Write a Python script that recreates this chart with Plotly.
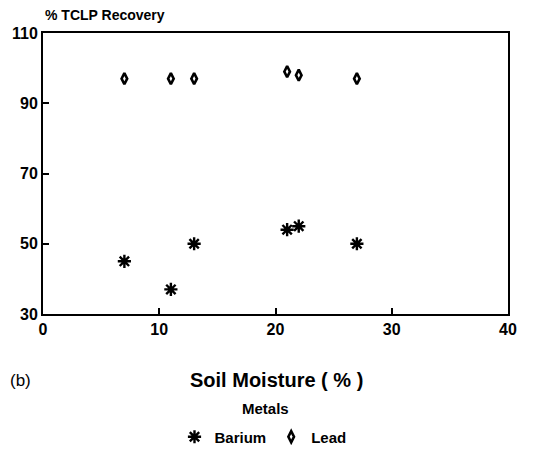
import plotly.graph_objects as go

moisture = [7, 11, 13, 21, 22, 27]
barium = [45, 37, 50, 54, 55, 50]
lead = [97, 97, 97, 99, 98, 97]
x_ticks = [0, 10, 20, 30, 40]
y_ticks = [30, 50, 70, 90, 110]

FONT = "Liberation Sans"
W, H = 533, 445          # page has an 8px body margin
L, R, T, B = 35, 33, 25, 139
PH = H - T - B

fig = go.Figure()
fig.add_trace(go.Scatter(
    x=moisture, y=barium, mode="markers", name="Barium",
    marker=dict(symbol="asterisk-open", size=11, color="black",
                line=dict(color="black", width=2.4)),
))
fig.add_trace(go.Scatter(
    x=moisture, y=lead, mode="markers", name="Lead",
    marker=dict(symbol="diamond-tall-open", size=8, color="black",
                line=dict(color="black", width=2.6)),
))

fig.update_layout(
    width=W, height=H,
    margin=dict(l=L, r=R, t=T, b=B, autoexpand=False),
    paper_bgcolor="white", plot_bgcolor="white",
    font=dict(family=FONT, color="black", size=13, weight="bold"),
    showlegend=True,
    legend=dict(orientation="h", x=(263 - 8) / W, xanchor="center", xref="container",
                y=(H - (437 - 8)) / H, yanchor="middle", yref="container",
                font=dict(size=15, weight="bold"), itemwidth=30,
                tracegroupgap=0),
    xaxis=dict(range=[0, 40], tickvals=x_ticks, ticks="inside", ticklen=6,
               tickwidth=1.5, tickcolor="black", showline=True, linecolor="black",
               linewidth=2, mirror=True, showgrid=False, zeroline=False,
               automargin=False, ticklabelstandoff=0,
               tickfont=dict(size=16, weight="bold")),
    yaxis=dict(range=[30, 110], tickvals=y_ticks, ticks="inside", ticklen=6,
               tickwidth=1.5, tickcolor="black", showline=True, linecolor="black",
               linewidth=2, mirror=True, showgrid=False, zeroline=False,
               automargin=False, ticklabelstandoff=0,
               tickfont=dict(size=16, weight="bold")),
    annotations=[
        dict(text="% TCLP Recovery", x=0, y=1.0, xref="paper", yref="paper",
             yanchor="bottom", yshift=8, xanchor="left",
             showarrow=False, font=dict(size=14, weight="bold")),
        dict(text="Soil Moisture ( % )", x=(276 - 43) / 465, y=-66 / PH,
             xref="paper", yref="paper",
             showarrow=False, font=dict(size=20, weight="bold"), xanchor="center",
             yanchor="middle"),
        dict(text="(b)", x=-L / 465, y=-66 / PH, xref="paper", yref="paper",
             showarrow=False, font=dict(size=17, weight="normal"), xanchor="left",
             yanchor="middle"),
        dict(text="Metals", x=(265 - 43) / 465, y=-94 / PH, xref="paper", yref="paper",
             showarrow=False, font=dict(size=15, weight="bold"), xanchor="center",
             yanchor="middle"),
    ],
)

fig.write_html("out.html")
